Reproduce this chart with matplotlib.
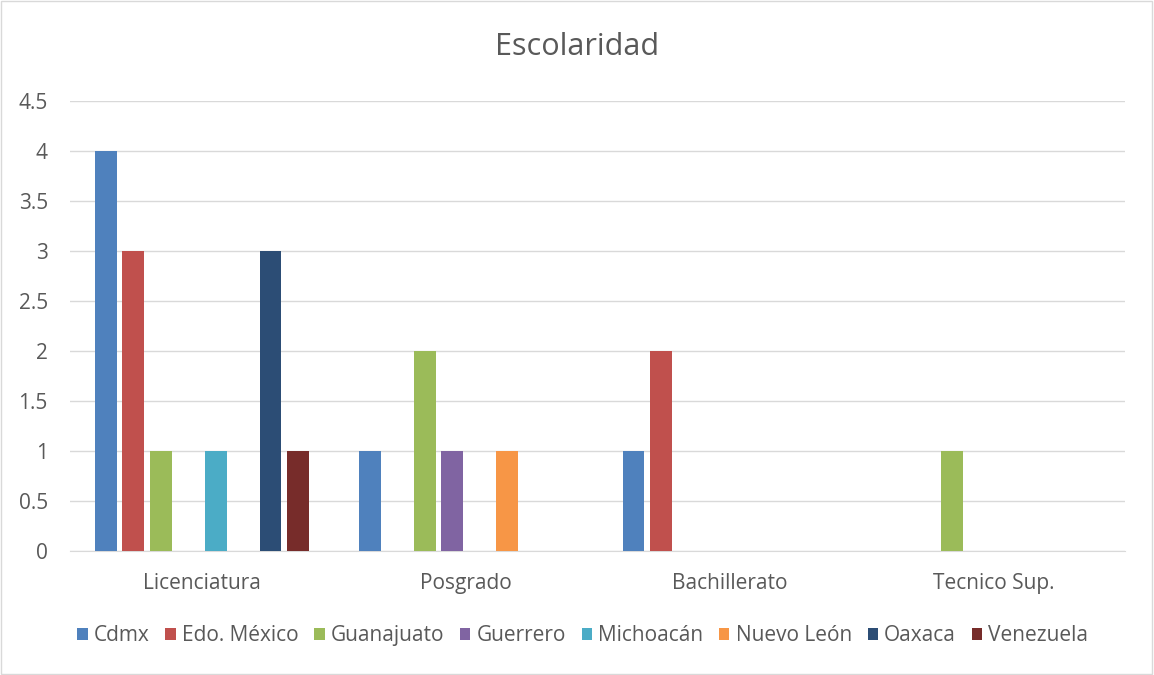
import numpy as np
import matplotlib
matplotlib.use("Agg")
import matplotlib.pyplot as plt
from matplotlib.patches import Rectangle

plt.rcParams["font.family"] = ["Open Sans", "DejaVu Sans"]

# datos
categorias = ["Licenciatura", "Posgrado", "Bachillerato", "Tecnico Sup."]
estados = ["Cdmx", "Edo. México", "Guanajuato", "Guerrero",
           "Michoacán", "Nuevo León", "Oaxaca", "Venezuela"]
cdmx = [4, 1, 1, 0]
edo_mexico = [3, 0, 2, 0]
guanajuato = [1, 2, 0, 1]
guerrero = [0, 1, 0, 0]
michoacan = [1, 0, 0, 0]
nuevo_leon = [0, 1, 0, 0]
oaxaca = [3, 0, 0, 0]
venezuela = [1, 0, 0, 0]
valores = [cdmx, edo_mexico, guanajuato, guerrero, michoacan, nuevo_leon, oaxaca, venezuela]
colores = ["#4F81BD", "#C0504D", "#9BBB59", "#8064A2",
           "#4BACC6", "#F79646", "#2C4D75", "#772C2A"]

fig = plt.figure(figsize=(11.54, 6.75), dpi=100)
ax = fig.add_axes([0.0607, 0.1837, 0.9143, 0.6667])

x = np.arange(len(categorias))
paso = 0.104
ancho = 0.083
for i, (nombre, vals, c) in enumerate(zip(estados, valores, colores)):
    ax.bar(x + (i - 3.5) * paso, vals, width=ancho, color=c, label=nombre, zorder=3)

ax.set_xlim(-0.5, 3.5)
ax.set_ylim(0, 4.5)
ax.set_yticks(np.arange(0, 4.51, 0.5))
ax.set_yticklabels(["0", "0.5", "1", "1.5", "2", "2.5", "3", "3.5", "4", "4.5"])
ax.set_xticks(x)
ax.set_xticklabels(categorias)
ax.tick_params(axis="both", length=0, labelsize=15, colors="#595959")
ax.tick_params(axis="x", pad=16)
ax.tick_params(axis="y", pad=16)
ax.grid(axis="y", color="#D9D9D9", linewidth=1, zorder=0)
for s in ["top", "right", "left"]:
    ax.spines[s].set_visible(False)
ax.spines["bottom"].set_color("#D9D9D9")

fig.text(0.5, 0.93, "Escolaridad", ha="center", va="center", fontsize=22, color="#595959")

fig.legend(loc="center", bbox_to_anchor=(0.505, 0.058), ncol=8, frameon=False,
           fontsize=15, labelcolor="#595959", handlelength=0.5, handleheight=0.5,
           handletextpad=0.3, columnspacing=0.75)

fig.add_artist(Rectangle((0.001, 0.001), 0.997, 0.997, transform=fig.transFigure,
                         fill=False, edgecolor="#D9D9D9", linewidth=1))

fig.savefig("out.png", dpi=100)
